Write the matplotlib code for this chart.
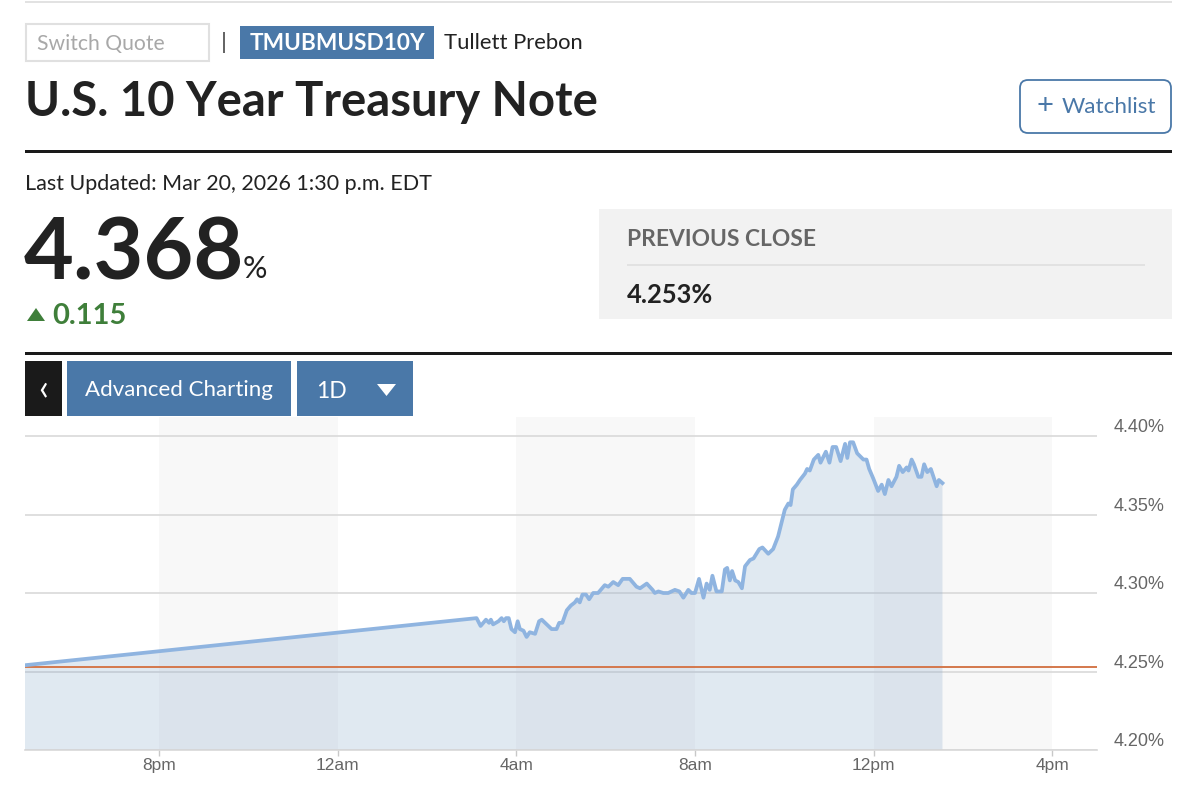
# coding: utf-8
import matplotlib
matplotlib.use("Agg")
import matplotlib.pyplot as plt
from matplotlib.patches import Rectangle, FancyBboxPatch, Polygon

plt.rcParams['font.family'] = ['Lato', 'DejaVu Sans']

# hours since 5pm of the previous day
hours = [0, 10.11, 10.20, 10.32, 10.39, 10.43, 10.48, 10.60, 10.67, 10.72, 10.77, 10.83, 10.89, 10.97,
         11.03, 11.08, 11.16, 11.23, 11.30, 11.42, 11.51, 11.57, 11.68, 11.79, 11.90, 11.96, 12.03, 12.13,
         12.22, 12.31, 12.36, 12.42, 12.48, 12.56, 12.63, 12.72, 12.83, 12.98, 13.06, 13.17, 13.28, 13.38,
         13.54, 13.69, 13.77, 13.92, 14.05, 14.10, 14.18, 14.29, 14.40, 14.55, 14.65, 14.74, 14.85, 14.92,
         15.00, 15.09, 15.19, 15.26, 15.33, 15.39, 15.48, 15.60, 15.67, 15.72, 15.78, 15.83, 15.90, 15.97,
         16.05, 16.12, 16.23, 16.31, 16.44, 16.51, 16.64, 16.75, 16.86, 17.01, 17.09, 17.14, 17.19, 17.28,
         17.35, 17.46, 17.51, 17.57, 17.66, 17.76, 17.81, 17.93, 18.01, 18.08, 18.16, 18.26, 18.36, 18.41,
         18.47, 18.54, 18.63, 18.77, 18.84, 18.90, 18.99, 19.10, 19.18, 19.25, 19.33, 19.40, 19.51, 19.57,
         19.65, 19.74, 19.78, 19.85, 19.90, 20.00, 20.07, 20.13, 20.20, 20.28, 20.41, 20.46, 20.54]
yields = [4.254, 4.284, 4.279, 4.283, 4.281, 4.283, 4.280, 4.282, 4.284, 4.282, 4.284, 4.284, 4.277, 4.275,
          4.282, 4.277, 4.276, 4.272, 4.275, 4.274, 4.282, 4.283, 4.280, 4.277, 4.277, 4.281, 4.281, 4.289,
          4.292, 4.294, 4.296, 4.294, 4.299, 4.299, 4.296, 4.300, 4.300, 4.305, 4.304, 4.307, 4.305, 4.309,
          4.309, 4.304, 4.303, 4.306, 4.302, 4.300, 4.301, 4.300, 4.300, 4.302, 4.301, 4.297, 4.302, 4.300,
          4.300, 4.309, 4.297, 4.306, 4.302, 4.311, 4.301, 4.301, 4.315, 4.316, 4.308, 4.314, 4.308, 4.307,
          4.303, 4.317, 4.321, 4.322, 4.328, 4.329, 4.325, 4.328, 4.336, 4.353, 4.357, 4.356, 4.366, 4.369,
          4.372, 4.376, 4.379, 4.378, 4.385, 4.388, 4.383, 4.390, 4.383, 4.393, 4.393, 4.384, 4.395, 4.386,
          4.396, 4.396, 4.389, 4.385, 4.385, 4.379, 4.373, 4.365, 4.369, 4.363, 4.372, 4.368, 4.374, 4.381,
          4.377, 4.380, 4.378, 4.385, 4.382, 4.374, 4.374, 4.382, 4.377, 4.379, 4.368, 4.372, 4.370]
previous_close = 4.253

y_ticks = [4.20, 4.25, 4.30, 4.35, 4.40]
y_tick_labels = ['4.20%', '4.25%', '4.30%', '4.35%', '4.40%']
x_ticks = [3, 7, 11, 15, 19, 23]
x_tick_labels = ['8pm', '12am', '4am', '8am', '12pm', '4pm']
shaded_spans = [(3, 7), (11, 15), (19, 23)]

W, H = 1200, 796
BLUE = '#4a78a8'
DARK = '#222222'
AXIS_FONT = 'Liberation Sans'

fig = plt.figure(figsize=(W / 100, H / 100), dpi=100, facecolor='white')

# page furniture, in pixel coordinates
page = fig.add_axes([0, 0, 1, 1])
page.set_xlim(0, W)
page.set_ylim(H, 0)
page.axis('off')


def box(x0, y0, x1, y1, color):
    page.add_patch(Rectangle((x0, y0), x1 - x0, y1 - y0, facecolor=color, edgecolor='none'))


def label(x, y, s, size, color=DARK, weight='normal', ha='left'):
    page.text(x, y, s, fontsize=size, color=color, fontweight=weight, ha=ha, va='center')


box(25, 1, 1172, 3, '#e2e2e2')
page.add_patch(Rectangle((26, 24), 183, 37, facecolor='white', edgecolor='#e0e0e0', linewidth=1.5))
label(37, 44, 'Switch Quote', 15.2, color='#a8a8a8')
box(223, 32, 225, 53, '#666666')
box(240, 26, 434, 59, BLUE)
label(337, 43, 'TMUBMUSD10Y', 16.3, color='white', weight='bold', ha='center')
label(444, 43, 'Tullett Prebon', 15.8)
label(25, 102, 'U.S. 10 Year Treasury Note', 34, weight='bold')

page.add_patch(FancyBboxPatch((1020, 80), 151, 53, boxstyle='round,pad=0,rounding_size=8',
                              mutation_aspect=1, facecolor='white', edgecolor=BLUE, linewidth=1.3))
label(1036, 106, '+', 21, color=BLUE)
label(1062, 107, 'Watchlist', 16.2, color=BLUE)

box(25, 150, 1172, 153, '#1a1a1a')
label(25, 184, 'Last Updated: Mar 20, 2026 1:30 p.m. EDT', 15.5)
label(24, 255, '4.368', 62, weight='bold')
label(243, 269, '%', 22)
page.add_patch(Polygon([(27, 321), (45, 321), (36, 308)], facecolor='#3f7f3a', edgecolor='none'))
label(52, 316, '0.115', 21, color='#3f7f3a', weight='bold')

box(599, 209, 1172, 319, '#f2f2f2')
label(627, 239, 'PREVIOUS CLOSE', 16.4, color='#666666', weight='bold')
box(627, 264, 1145, 265.5, '#e2e2e2')
label(627, 295, '4.253%', 18.4, weight='bold')
box(25, 352, 1172, 355, '#1a1a1a')

box(25, 361, 62, 416, '#1a1a1a')
label(43, 389, '‹', 26, color='white', ha='center')
box(67, 361, 291, 416, BLUE)
label(179, 390, 'Advanced Charting', 16, color='white', ha='center')
box(297, 361, 413, 416, BLUE)
label(316, 392, '1D', 16.5, color='white')
page.add_patch(Polygon([(377, 384), (396, 384), (386.5, 396)], facecolor='white', edgecolor='none'))

# chart, 25..1097 px wide, 417..750 px tall
ax = fig.add_axes([25 / W, 1 - 750 / H, (1097 - 25) / W, (750 - 417) / H])
ax.set_facecolor('none')
ax.set_xlim(0, 24)
ax.set_ylim(4.20, 4.20 + 333 / 1570)

for start, end in shaded_spans:
    ax.axvspan(start, end, facecolor='#f8f8f8', edgecolor='none', zorder=0)

ax.grid(axis='y', color='#dcdcdc', linewidth=1.3, zorder=1)
ax.set_axisbelow(True)
ax.fill_between(hours, yields, 4.20, facecolor='#7fa3c7', alpha=0.24, linewidth=0, zorder=2)
ax.axhline(previous_close, color='#d4784c', linewidth=1.4, zorder=3)
ax.plot(hours, yields, color='#8fb4e0', linewidth=2.7, solid_joinstyle='round', zorder=4)

for side in ['top', 'right', 'left']:
    ax.spines[side].set_visible(False)
ax.spines['bottom'].set_color('#d8d8d8')
ax.spines['bottom'].set_linewidth(1.2)

ax.yaxis.tick_right()
ax.set_yticks(y_ticks)
ax.set_yticklabels(y_tick_labels, fontsize=13, color='#666666', va='bottom', family=AXIS_FONT)
ax.set_xticks(x_ticks)
ax.set_xticklabels(x_tick_labels, fontsize=12.5, color='#666666', family=AXIS_FONT)
ax.tick_params(axis='y', length=0, pad=12)
ax.tick_params(axis='x', length=4, width=1, color='#c8c8c8', pad=2)

fig.savefig('out.png', dpi=100)
